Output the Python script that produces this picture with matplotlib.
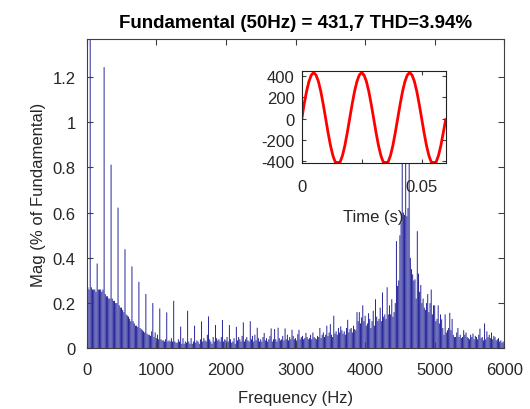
import numpy as np
import matplotlib
matplotlib.use("Agg")
import matplotlib.pyplot as plt
from matplotlib.ticker import FormatStrFormatter

plt.rcParams['font.family'] = ['Liberation Sans', 'DejaVu Sans']

# ---------------- data ----------------
title_text = "Fundamental (50Hz) = 431,7 THD=3.94%"
freq_step = 50.0 / 3.0   # Hz between bars (3 cycles window)

# magnitude (% of fundamental), one row per 100 Hz: bars at +0, +16.7, +33.3, +50, +66.7, +83.3 Hz
mag_blocks = [
    [0.26, 0.27, 0.26, 100.0, 0.27, 0.26],      # 0
    [0.26, 0.26, 0.25, 0.375, 0.26, 0.26],      # 100
    [0.26, 0.25, 0.26, 1.243, 0.24, 0.23],      # 200
    [0.23, 0.22, 0.22, 0.812, 0.22, 0.21],      # 300
    [0.21, 0.20, 0.20, 0.622, 0.19, 0.18],      # 400
    [0.18, 0.17, 0.16, 0.438, 0.15, 0.145],     # 500
    [0.14, 0.13, 0.12, 0.362, 0.12, 0.11],      # 600
    [0.10, 0.10, 0.095, 0.294, 0.09, 0.085],    # 700
    [0.08, 0.075, 0.07, 0.24, 0.065, 0.06],     # 800
    [0.06, 0.055, 0.075, 0.20, 0.05, 0.07],     # 900
    [0.045, 0.06, 0.04, 0.176, 0.04, 0.035],    # 1000
    [0.035, 0.03, 0.04, 0.159, 0.03, 0.035],    # 1100
    [0.03, 0.045, 0.03, 0.21, 0.03, 0.025],     # 1200
    [0.025, 0.04, 0.03, 0.096, 0.02, 0.045],    # 1300
    [0.02, 0.03, 0.025, 0.166, 0.03, 0.02],     # 1400
    [0.045, 0.02, 0.03, 0.10, 0.025, 0.035],    # 1500
    [0.03, 0.02, 0.04, 0.119, 0.03, 0.045],     # 1600
    [0.035, 0.03, 0.06, 0.141, 0.04, 0.03],     # 1700
    [0.02, 0.05, 0.03, 0.103, 0.045, 0.035],    # 1800
    [0.04, 0.03, 0.05, 0.125, 0.03, 0.04],      # 1900
    [0.035, 0.05, 0.03, 0.103, 0.04, 0.025],    # 2000
    [0.03, 0.045, 0.02, 0.095, 0.035, 0.05],    # 2100
    [0.04, 0.03, 0.055, 0.115, 0.03, 0.04],     # 2200
    [0.05, 0.035, 0.03, 0.12, 0.04, 0.055],     # 2300
    [0.03, 0.06, 0.035, 0.091, 0.045, 0.03],    # 2400
    [0.04, 0.03, 0.05, 0.068, 0.035, 0.045],    # 2500
    [0.03, 0.04, 0.055, 0.088, 0.03, 0.04],     # 2600
    [0.085, 0.04, 0.03, 0.091, 0.045, 0.035],   # 2700
    [0.04, 0.055, 0.035, 0.088, 0.04, 0.06],    # 2800
    [0.035, 0.05, 0.04, 0.082, 0.055, 0.04],    # 2900
    [0.045, 0.035, 0.063, 0.082, 0.04, 0.05],   # 3000
    [0.055, 0.04, 0.045, 0.068, 0.05, 0.04],    # 3100
    [0.045, 0.06, 0.04, 0.07, 0.05, 0.045],     # 3200
    [0.04, 0.055, 0.05, 0.09, 0.045, 0.06],     # 3300
    [0.07, 0.05, 0.06, 0.10, 0.055, 0.07],      # 3400
    [0.107, 0.06, 0.05, 0.144, 0.065, 0.075],   # 3500
    [0.06, 0.09, 0.07, 0.097, 0.08, 0.065],     # 3600
    [0.075, 0.06, 0.09, 0.126, 0.07, 0.085],    # 3700
    [0.09, 0.07, 0.10, 0.085, 0.08, 0.16],      # 3800
    [0.12, 0.16, 0.11, 0.137, 0.19, 0.12],      # 3900
    [0.144, 0.10, 0.11, 0.155, 0.13, 0.09],     # 4000
    [0.12, 0.166, 0.10, 0.217, 0.14, 0.12],     # 4100
    [0.13, 0.18, 0.12, 0.247, 0.14, 0.15],      # 4200
    [0.13, 0.27, 0.15, 0.19, 0.15, 0.217],      # 4300
    [0.14, 0.16, 0.20, 0.474, 0.276, 0.30],     # 4400
    [0.50, 0.555, 0.95, 0.60, 0.59, 1.10],      # 4500
    [0.584, 0.62, 0.90, 0.40, 0.35, 0.327],     # 4600
    [0.30, 0.305, 0.22, 0.518, 0.33, 0.25],     # 4700
    [0.28, 0.20, 0.22, 0.18, 0.17, 0.20],       # 4800
    [0.24, 0.16, 0.20, 0.26, 0.15, 0.19],       # 4900
    [0.19, 0.12, 0.13, 0.19, 0.11, 0.15],       # 5000
    [0.128, 0.09, 0.06, 0.15, 0.07, 0.08],      # 5100
    [0.09, 0.157, 0.08, 0.13, 0.06, 0.05],      # 5200
    [0.05, 0.07, 0.09, 0.05, 0.06, 0.045],      # 5300
    [0.05, 0.08, 0.06, 0.07, 0.05, 0.045],      # 5400
    [0.04, 0.06, 0.05, 0.065, 0.04, 0.055],     # 5500
    [0.05, 0.04, 0.06, 0.087, 0.045, 0.05],     # 5600
    [0.035, 0.11, 0.04, 0.075, 0.05, 0.06],     # 5700
    [0.045, 0.07, 0.04, 0.055, 0.05, 0.035],    # 5800
    [0.04, 0.045, 0.03, 0.035, 0.025, 0.03],    # 5900
    [0.02],                                     # 6000
]
mag = [v for row in mag_blocks for v in row]

# inset: time signal (V), sampled every 1 ms over 3 cycles
time_ms = list(range(0, 61))
signal = [-10, 133, 254, 349, 411, 436, 411, 349, 254, 133,
          0, -133, -254, -349, -411, -415, -411, -349, -254, -133,
          0, 133, 254, 349, 411, 436, 411, 349, 254, 133,
          0, -133, -254, -349, -411, -415, -411, -349, -254, -133,
          0, 133, 254, 349, 411, 436, 411, 349, 254, 133,
          0, -133, -254, -349, -411, -415, -411, -349, -254, -133,
          -10]

# ---------------- figure ----------------
text_col = '#262626'
frame_col = '#404040'
fig = plt.figure(figsize=(5.30, 4.10), dpi=100)
ax = fig.add_axes([0.1636, 0.148, 0.9515 - 0.1636, 0.902 - 0.148])

freqs = np.arange(len(mag)) * freq_step
bars = ax.bar(freqs, mag, width=0.8 * freq_step, color='#1a1a94',
              edgecolor='none', linewidth=0)
for b in bars:
    b.set_snap(False)
    b.set_antialiased(True)

ax.set_xlim(0, 6000)
ax.set_ylim(0, 1.367)
ax.set_xticks(np.arange(0, 6001, 1000))
ax.set_yticks([0, 0.2, 0.4, 0.6, 0.8, 1.0, 1.2])
ax.yaxis.set_major_formatter(FormatStrFormatter('%g'))
ax.tick_params(direction='in', top=True, right=True, length=4, width=0.8,
               colors=frame_col, labelcolor=text_col, labelsize=12)
ax.tick_params(axis='x', pad=10)
ax.tick_params(axis='y', pad=8)
for s in ax.spines.values():
    s.set_color(frame_col)
    s.set_linewidth(0.8)
ax.set_xlabel('Frequency (Hz)', fontsize=12, color=text_col, labelpad=9)
ax.set_ylabel('Mag (% of Fundamental)', fontsize=12, color=text_col, labelpad=5)
ax.set_title(title_text, fontsize=13.5, fontweight='bold', color='black', pad=9)

# inset
axi = fig.add_axes([0.5692, 0.5993, 0.2717, 0.2259])
axi.plot(np.array(time_ms) / 1000.0, signal, color='red', linewidth=2.0)
axi.set_xlim(0, 0.06)
axi.set_ylim(-422, 453)
axi.set_xticks([0, 0.025, 0.05])
axi.set_xticklabels(['0', '', '0.05'])
axi.set_yticks([-400, -200, 0, 200, 400])
axi.set_yticklabels(['-400', '-200', '0', '200', '400'])
axi.tick_params(direction='in', top=True, right=True, length=3, width=0.8,
                colors=frame_col, labelcolor=text_col, labelsize=12)
axi.tick_params(axis='x', pad=11)
axi.tick_params(axis='y', pad=5)
for s in axi.spines.values():
    s.set_color('#202020')
    s.set_linewidth(0.8)
axi.set_xlabel('Time (s)', fontsize=12, color=text_col, labelpad=11)

fig.savefig('out.png', dpi=100)
